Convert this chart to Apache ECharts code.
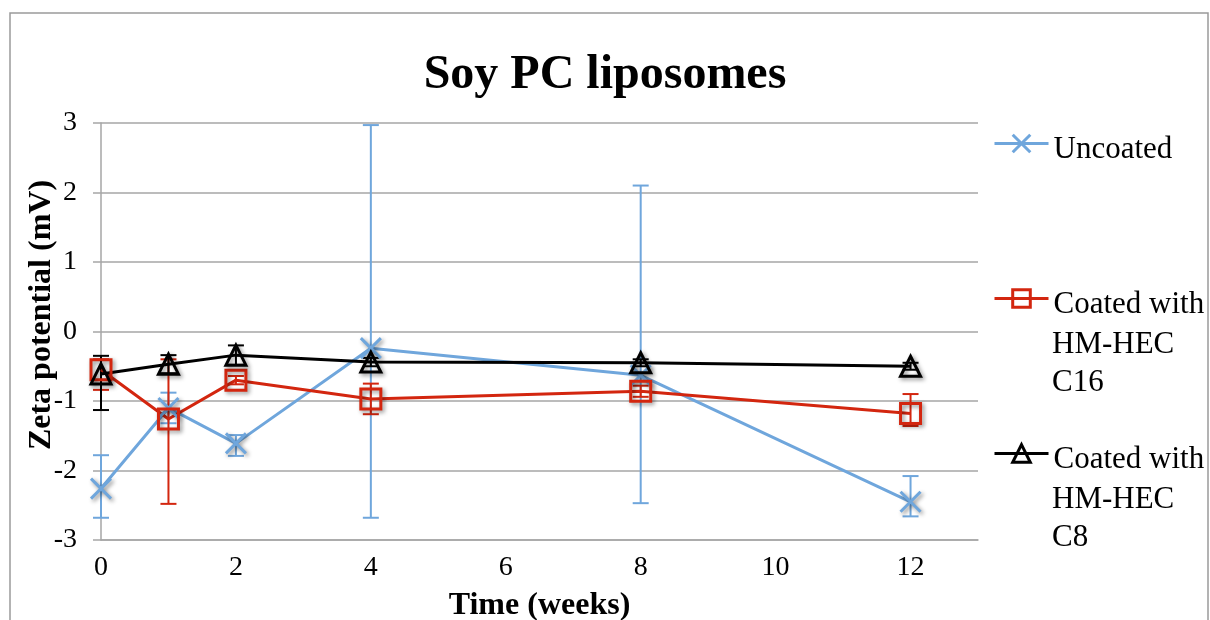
<!DOCTYPE html>
<html>
<head>
<meta charset="utf-8">
<script src="https://cdn.jsdelivr.net/npm/echarts@6/dist/echarts.min.js"></script>
<style>
html,body{margin:0;padding:0;background:#fff;}
#chart{width:1210px;height:620px;}
</style>
</head>
<body>
<div id="chart"></div>
<script>
// ---- Data ----
const weeks = [0, 1, 2, 4, 8, 12];
const xTicks = [0, 2, 4, 6, 8, 10, 12];
const yTicks = [-3, -2, -1, 0, 1, 2, 3];

const uncoated     = [-2.26, -1.10, -1.61, -0.24, -0.63, -2.45];
const uncoatedLow  = [-2.68, -1.32, -1.79, -2.68, -2.47, -2.66];
const uncoatedHigh = [-1.78, -0.88, -1.49,  2.97,  2.10, -2.08];

const c16     = [-0.55, -1.26, -0.70, -0.97, -0.86, -1.18];
const c16Low  = [-0.84, -2.48, -0.76, -1.19, -0.94, -1.36];
const c16High = [-0.40, -0.40, -0.64, -0.75, -0.78, -0.90];

const c8     = [-0.61, -0.47, -0.34, -0.44, -0.45, -0.50];
const c8Low  = [-1.13, -0.60, -0.48, -0.50, -0.50, -0.55];
const c8High = [-0.35, -0.34, -0.20, -0.38, -0.40, -0.45];

const names = ['Uncoated', 'Coated with\nHM-HEC\nC16', 'Coated with\nHM-HEC\nC8'];
const colors = ['#6FA6DC', '#D3260F', '#000000'];

// ---- Chart ----
const FONT = "'Liberation Serif', 'Times New Roman', serif";
const chart = echarts.init(document.getElementById('chart'), null, {renderer: 'canvas'});

function pairs(vals) { return weeks.map((w, i) => [w, vals[i]]); }
function errData(lo, hi) { return weeks.map((w, i) => [w, lo[i], hi[i]]); }

function errSeries(lo, hi, color) {
  return {
    type: 'custom',
    data: errData(lo, hi),
    encode: {x: 0, y: [1, 2]},
    z: 1,
    silent: true,
    renderItem: function (params, api) {
      const x = api.value(0);
      const a = api.coord([x, api.value(1)]);
      const b = api.coord([x, api.value(2)]);
      const w = 8;
      const st = {stroke: color, lineWidth: 2};
      return {
        type: 'group',
        children: [
          {type: 'line', shape: {x1: a[0], y1: a[1], x2: b[0], y2: b[1]}, style: st},
          {type: 'line', shape: {x1: a[0] - w, y1: a[1], x2: a[0] + w, y2: a[1]}, style: st},
          {type: 'line', shape: {x1: b[0] - w, y1: b[1], x2: b[0] + w, y2: b[1]}, style: st}
        ]
      };
    }
  };
}

const shadow = {shadowBlur: 4, shadowColor: 'rgba(0,0,0,0.45)', shadowOffsetX: 2, shadowOffsetY: 2};

function lineSeries(idx, vals, symbol, size) {
  return {
    type: 'line',
    name: names[idx],
    data: pairs(vals),
    symbol: symbol,
    symbolSize: size,
    z: 3,
    lineStyle: {color: colors[idx], width: 3},
    itemStyle: Object.assign({color: 'rgba(0,0,0,0)', borderColor: colors[idx], borderWidth: 3}, shadow)
  };
}

function legendFor(idx, symbolY) {
  return {
    data: [names[idx]],
    left: 993,
    top: symbolY - 20,
    orient: 'vertical',
    padding: 0,
    itemWidth: 54,
    itemHeight: 22,
    itemGap: 5,
    selectedMode: false,
    lineStyle: {width: 3},
    itemStyle: {borderWidth: 3, shadowBlur: 0, shadowOffsetX: 0, shadowOffsetY: 0, shadowColor: 'rgba(0,0,0,0)'},
    formatter: function (n) { return '{a|' + n.split('\n')[0] + '}'; },
    textStyle: {
      fontFamily: FONT, fontSize: 31, color: '#000',
      rich: {a: {fontFamily: FONT, fontSize: 31, color: '#000', lineHeight: 37, padding: [12, 0, 0, 0]}}
    }
  };
}

function extraLines(idx, firstY) {
  const rest = names[idx].split('\n').slice(1);
  return rest.map((t, k) => ({
    type: 'text',
    left: 1052,
    top: firstY + 38 * (k + 1) - 12,
    silent: true,
    style: {text: t, fontFamily: FONT, fontSize: 31, fill: '#000'}
  }));
}

const option = {
  animation: false,
  backgroundColor: '#fff',
  title: {
    text: 'Soy PC liposomes',
    left: 'center',
    top: 52,
    padding: 0,
    textStyle: {fontFamily: FONT, fontSize: 48, fontWeight: 'bold', color: '#000'}
  },
  graphic: [
    {
      type: 'rect',
      shape: {x: 10, y: 13, width: 1198, height: 700},
      style: {fill: 'none', stroke: '#9a9a9a', lineWidth: 1.5},
      silent: true
    },
    {
      type: 'text',
      x: 42, y: 315,
      rotation: Math.PI / 2,
      silent: true,
      style: {
        text: 'Zeta potential (mV)', fontFamily: FONT, fontSize: 32, fontWeight: 'bold',
        fill: '#000', align: 'center', verticalAlign: 'middle'
      }
    }
  ].concat(extraLines(1, 303), extraLines(2, 458)),
  legend: [
    legendFor(0, 142),
    legendFor(1, 297),
    legendFor(2, 452)
  ],
  grid: {left: 101, right: 232, top: 123, bottom: 80, containLabel: false, outerBoundsMode: 'none'},
  xAxis: {
    type: 'value',
    min: 0, max: 13, interval: 2,
    name: 'Time (weeks)',
    nameLocation: 'middle',
    nameGap: 50,
    nameTextStyle: {fontFamily: FONT, fontSize: 32, fontWeight: 'bold', color: '#000'},
    axisLine: {show: true, onZero: false, lineStyle: {color: '#a6a6a6', width: 1.5}},
    axisTick: {show: false},
    splitLine: {show: false},
    axisLabel: {
      fontFamily: FONT, fontSize: 28, color: '#000', margin: 14,
      showMaxLabel: false,
      formatter: function (v) { return xTicks.indexOf(v) >= 0 ? String(v) : ''; }
    }
  },
  yAxis: {
    type: 'value',
    min: -3, max: 3, interval: 1,
    axisLine: {show: true, onZero: false, lineStyle: {color: '#a6a6a6', width: 1.5}},
    axisTick: {show: true, inside: false, length: 8, lineStyle: {color: '#a6a6a6', width: 1.5}},
    splitLine: {show: true, lineStyle: {color: '#a6a6a6', width: 1.5}},
    axisLabel: {
      fontFamily: FONT, fontSize: 28, color: '#000', margin: 24,
      formatter: function (v) { return yTicks.indexOf(v) >= 0 ? String(v) : ''; }
    }
  },
  series: [
    errSeries(uncoatedLow, uncoatedHigh, colors[0]),
    errSeries(c16Low, c16High, colors[1]),
    errSeries(c8Low, c8High, colors[2]),
    lineSeries(0, uncoated, 'path://M0,0L20,20M20,0L0,20', 20),
    lineSeries(1, c16, 'rect', 20),
    lineSeries(2, c8, 'triangle', 20)
  ]
};

chart.setOption(option);
</script>
</body>
</html>
